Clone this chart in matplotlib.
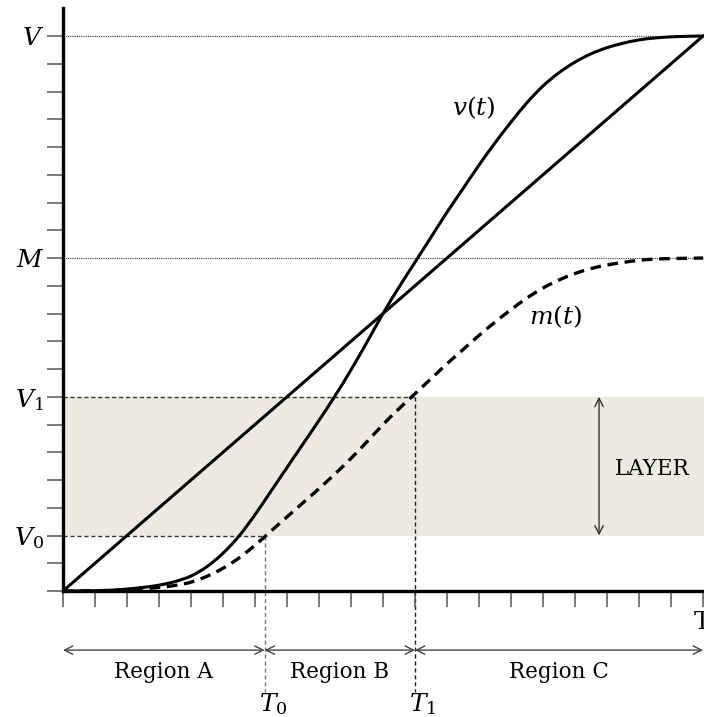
import matplotlib
matplotlib.use("Agg")
from matplotlib import pyplot as plt
from matplotlib.path import Path
from matplotlib.patches import PathPatch

plt.rcParams['font.family'] = ['DejaVu Serif']
plt.rcParams['mathtext.fontset'] = 'dejavuserif'

# values
t_vals = [0, 0.5, 1, 1.5, 2, 2.5, 3, 3.5, 4, 4.5, 5, 5.5, 6, 6.5, 7, 7.5, 8, 8.5, 9, 9.5, 10,
          10.5, 11, 11.5, 12, 12.5, 13, 13.5, 14, 14.5, 15, 15.5, 16, 16.5, 17, 17.5, 18, 18.5, 19, 19.5, 20]
v_vals = [0, 0, 0.01, 0.03, 0.07, 0.13, 0.21, 0.34, 0.54, 0.88, 1.36, 1.98, 2.75, 3.6, 4.45, 5.3, 6.15, 7.03, 7.97, 8.97, 10.0,
          10.95, 11.85, 12.75, 13.65, 14.5, 15.35, 16.15, 16.9, 17.6, 18.2, 18.68, 19.06, 19.36, 19.58, 19.74, 19.86, 19.93, 19.97, 19.99, 20]
m_vals = [0, 0, 0.01, 0.02, 0.04, 0.08, 0.13, 0.2, 0.32, 0.53, 0.82, 1.19, 1.65, 2.16, 2.67, 3.18, 3.69, 4.22, 4.78, 5.38, 6.0,
          6.57, 7.11, 7.65, 8.19, 8.7, 9.21, 9.69, 10.14, 10.56, 10.92, 11.21, 11.44, 11.62, 11.75, 11.84, 11.92, 11.96, 11.98, 11.99, 12]
diag_t = [0, 20]
diag_v = [0, 20]

V, M, V1, V0 = 20, 12, 7, 2
T0, T1, T_END = 6.3, 11, 20
ytick_labels = {20: '$V$', 12: '$M$', 7: '$V_1$', 2: '$V_0$'}
regions = ['Region A', 'Region B', 'Region C']


def smooth_path(xs, ys):
    # cubic bezier through the read points (catmull-rom handles)
    verts = [(xs[0], ys[0])]
    codes = [Path.MOVETO]
    n = len(xs)
    for i in range(n - 1):
        x0, y0 = xs[max(i - 1, 0)], ys[max(i - 1, 0)]
        x1, y1 = xs[i], ys[i]
        x2, y2 = xs[i + 1], ys[i + 1]
        x3, y3 = xs[min(i + 2, n - 1)], ys[min(i + 2, n - 1)]
        verts += [(x1 + (x2 - x0) / 6, y1 + (y2 - y0) / 6),
                  (x2 - (x3 - x1) / 6, y2 - (y3 - y1) / 6),
                  (x2, y2)]
        codes += [Path.CURVE4] * 3
    return Path(verts, codes)


#==================+
# figure and axes  |
#==================+
fig = plt.figure(figsize=(7.04, 7.17), dpi=100)
ax = fig.add_axes([63/704, 126/717, 641/704, 583/717])
ax.set_xlim(0, 20.03)
ax.set_ylim(0, 21.01)

for side in ['top', 'right']:
    ax.spines[side].set_visible(False)
for side in ['left', 'bottom']:
    ax.spines[side].set_linewidth(2.4)
    ax.spines[side].set_zorder(5)

ax.set_xticks(range(21))
ax.set_xticklabels([])
ax.set_yticks(range(21))
ax.set_yticklabels([ytick_labels.get(i, '') for i in range(21)], fontsize=18)
ax.tick_params(axis='both', direction='out', length=11.5, width=1.1, color='#555555')
ax.tick_params(axis='y', pad=2)

# layer band and guide lines
ax.axhspan(V0, V1, color='#edebe1', zorder=0, lw=0)
ax.axhline(V, ls=(0, (1, 1)), lw=0.8, color='#333333', zorder=1)
ax.axhline(M, ls=(0, (1, 1)), lw=0.8, color='#333333', zorder=1)
ax.plot([0, T0], [V0, V0], ls=(0, (3, 2)), lw=1, color='#333333', zorder=1)
ax.plot([0, T1], [V1, V1], ls=(0, (3, 2)), lw=1, color='#333333', zorder=1)
ax.plot([T0, T0], [V0, -3.64], ls=(0, (3, 2)), lw=1, color='#777777', clip_on=False, zorder=1)
ax.plot([T1, T1], [V1, -3.64], ls=(0, (3, 2)), lw=1, color='#222222', clip_on=False, zorder=1)

# curves
ax.plot(diag_t, diag_v, color='black', lw=2.2, zorder=3)
ax.add_patch(PathPatch(smooth_path(t_vals, v_vals), fill=False, edgecolor='black', lw=2.2, zorder=3,
                       capstyle='round', joinstyle='round'))
ax.add_patch(PathPatch(smooth_path(t_vals, m_vals), fill=False, edgecolor='black', lw=2.4,
                       ls=(0, (3.2, 2)), zorder=3))

ax.text(12.84, 17.4, '$v(t)$', fontsize=18, ha='center', va='center')
ax.text(15.4, 9.87, '$m(t)$', fontsize=18, ha='center', va='center')

# layer arrow
ax.annotate('', xy=(16.75, V1), xytext=(16.75, V0),
            arrowprops=dict(arrowstyle='<->', color='#333333', lw=1, shrinkA=0, shrinkB=0, mutation_scale=15))
ax.text(18.4, 4.4, 'LAYER', fontsize=15.5, ha='center', va='center')

# regions below the axis
bounds = [0, T0, T1, T_END]
for i, name in enumerate(regions):
    ax.annotate('', xy=(bounds[i], -2.13), xytext=(bounds[i+1], -2.13), annotation_clip=False,
                arrowprops=dict(arrowstyle='<->', color='#444444', lw=1, shrinkA=0, shrinkB=0, mutation_scale=15))
    ax.text((bounds[i] + bounds[i+1]) / 2, -2.92, name, fontsize=15.5, ha='center', va='center')

ax.annotate('$T_0$', xy=(T0, -3.6), xytext=(-4, 0), textcoords='offset points',
            ha='left', va='top', fontsize=18, annotation_clip=False)
ax.annotate('$T_1$', xy=(T1, -3.6), xytext=(-4, 0), textcoords='offset points',
            ha='left', va='top', fontsize=18, annotation_clip=False)
fig.text(694/704, 1 - 611/717, 'T', ha='left', va='top', fontsize=18)

plt.savefig('out.png', dpi=100)
